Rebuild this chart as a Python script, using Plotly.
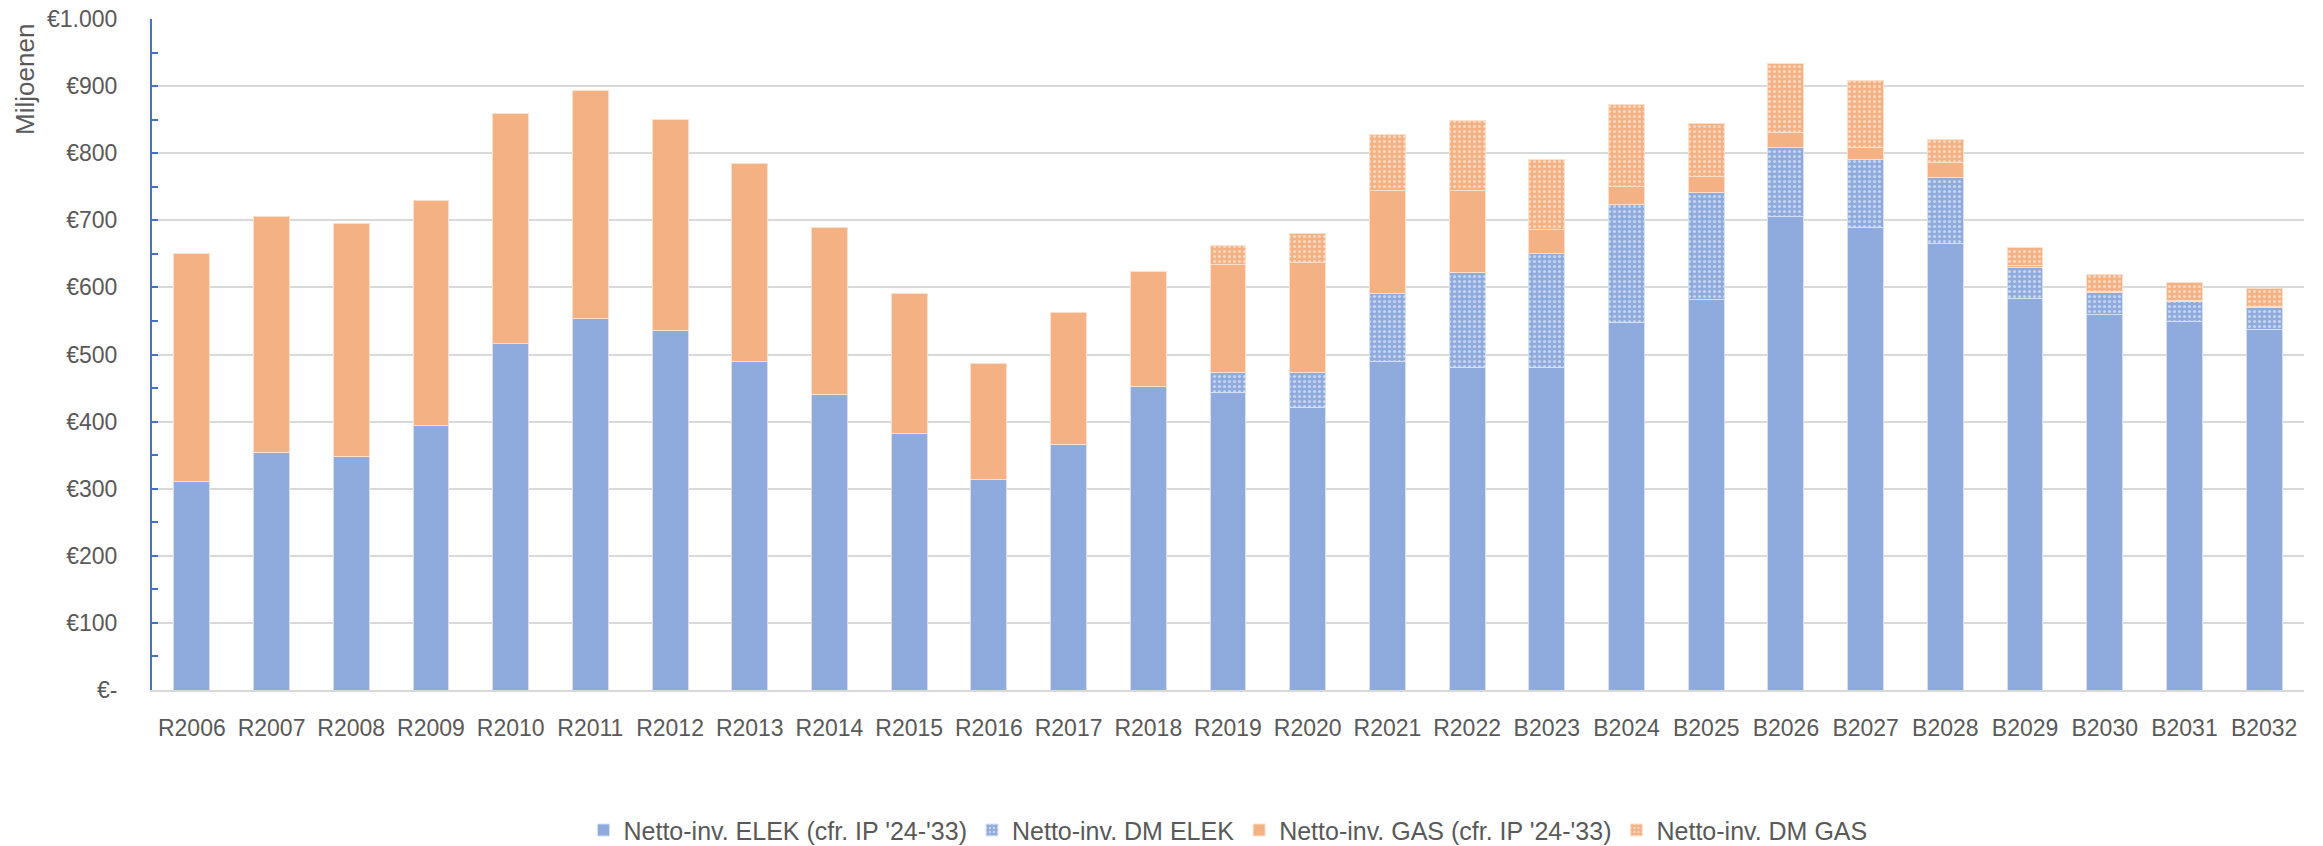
import plotly.graph_objects as go

categories = ["R2006", "R2007", "R2008", "R2009", "R2010", "R2011", "R2012", "R2013", "R2014",
              "R2015", "R2016", "R2017", "R2018", "R2019", "R2020", "R2021", "R2022", "B2023",
              "B2024", "B2025", "B2026", "B2027", "B2028", "B2029", "B2030", "B2031", "B2032"]

elek_ip = [310, 354, 348, 394, 517, 554, 536, 489, 440, 382, 314, 366, 453, 443, 421, 490,
           480, 480, 548, 582, 705, 690, 666, 584, 560, 549, 538]
elek_dm = [0, 0, 0, 0, 0, 0, 0, 0, 0, 0, 0, 0, 0, 30, 52, 101, 142, 170, 175, 160, 104, 101,
           98, 45, 32, 30, 32]
gas_ip = [340, 351, 347, 335, 342, 339, 314, 296, 249, 209, 172, 197, 171, 161, 164, 154, 123,
          36, 27, 24, 22, 17, 22, 4, 2, 2, 2]
gas_dm = [0, 0, 0, 0, 0, 0, 0, 0, 0, 0, 0, 0, 0, 28, 43, 83, 104, 105, 123, 79, 103, 101, 34,
          26, 25, 26, 26]

y_ticks = [0, 100, 200, 300, 400, 500, 600, 700, 800, 900, 1000]
y_labels = ["€-", "€100", "€200", "€300", "€400", "€500", "€600", "€700", "€800", "€900", "€1.000"]

blue = "#8faadc"
orange = "#f4b183"
txt = "#595959"
axis_blue = "#4472c4"

fig = go.Figure()
fig.add_trace(go.Bar(
    x=categories, y=elek_ip, name="Netto-inv. ELEK (cfr. IP '24-'33)",
    marker=dict(color=blue, line=dict(color="#d6e0f2", width=1)),
))
fig.add_trace(go.Bar(
    x=categories, y=elek_dm, name="Netto-inv. DM ELEK",
    marker=dict(color=blue, line=dict(color="#d6e0f2", width=1),
                pattern=dict(shape=".", fgcolor="white", size=5, solidity=0.3, fillmode="overlay")),
))
fig.add_trace(go.Bar(
    x=categories, y=gas_ip, name="Netto-inv. GAS (cfr. IP '24-'33)",
    marker=dict(color=orange, line=dict(color="#fbe0cc", width=1)),
))
fig.add_trace(go.Bar(
    x=categories, y=gas_dm, name="Netto-inv. DM GAS",
    marker=dict(color=orange, line=dict(color="#fbe0cc", width=1),
                pattern=dict(shape=".", fgcolor="white", size=5, solidity=0.3, fillmode="overlay")),
))

fig.update_layout(
    barmode="stack",
    bargap=0.55,
    width=2323, height=846,
    margin=dict(l=152, r=19, t=19, b=156, autoexpand=False),
    plot_bgcolor="white", paper_bgcolor="white",
    font=dict(family="Liberation Sans, Arial, sans-serif", color=txt, size=23),
    legend=dict(orientation="h", x=0.5, xanchor="center", y=-0.209, yanchor="middle",
                font=dict(size=25, color=txt), traceorder="normal"),
    showlegend=True,
)
fig.update_xaxes(
    type="category", showline=True, linecolor="#d9d9d9", linewidth=2, automargin=False,
    ticks="", tickfont=dict(size=23, color=txt), ticklabelstandoff=16,
)
fig.update_yaxes(
    range=[0, 1000], tickvals=y_ticks, ticktext=y_labels, automargin=False,
    ticklabeloverflow="allow",
    showgrid=True, gridcolor="#d9d9d9", gridwidth=2, zeroline=False,
    showline=True, linecolor=axis_blue, linewidth=2,
    ticks="inside", ticklen=6, tickcolor=axis_blue, tickwidth=2,
    minor=dict(dtick=50, ticks="inside", ticklen=6, tickcolor=axis_blue, tickwidth=2, showgrid=False),
    tickfont=dict(size=23, color=txt), ticklabelstandoff=28,
)
fig.add_annotation(
    text="Miljoenen", textangle=-90, xref="paper", yref="paper",
    x=-0.059, y=0.995, xanchor="center", yanchor="top", showarrow=False,
    font=dict(size=26, color=txt),
)

# drop the default 8px body margin so the figure fills the window exactly
fig.write_html("out.html", config={"displayModeBar": False},
               post_script="document.body.style.margin='0';")
